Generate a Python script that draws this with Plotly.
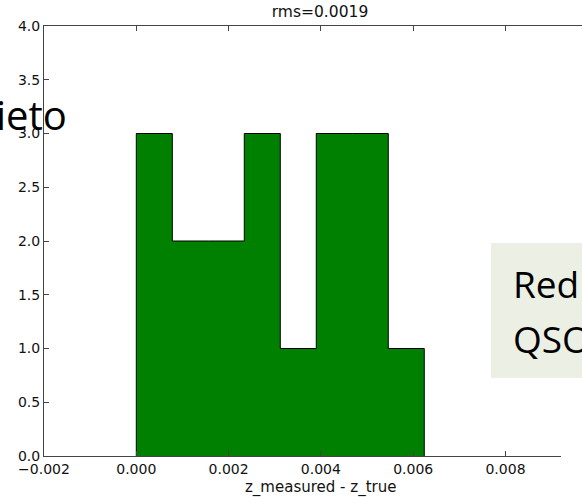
import plotly.graph_objects as go

# ---- data ----
bin_edges = [0.0, 0.00078, 0.00156, 0.00234, 0.00312, 0.0039, 0.00468, 0.00546, 0.00624]
counts = [3, 2, 2, 3, 1, 3, 3, 1]
title_text = "rms=0.0019"
x_label = "z_measured - z_true"
x_ticks = [-0.002, 0.0, 0.002, 0.004, 0.006, 0.008]
y_ticks = [0.0, 0.5, 1.0, 1.5, 2.0, 2.5, 3.0, 3.5, 4.0]
slide_left_text = "ieto"
slide_box_lines = ["Red", "QSO"]

# stepfilled outline built from edges and counts
xs = [bin_edges[0]] + bin_edges[:-1] + [bin_edges[-1], bin_edges[-1]]
ys = [0] + counts + [counts[-1], 0]

W, H = 582, 497
L, R, T, B = 44, 0, 26, 41
pw, ph = W - L - R, H - T - B

def px_x(p):
    return (p - L) / pw

def px_y(p):
    return (H - B - p) / ph

fig = go.Figure()
fig.add_trace(go.Scatter(
    x=xs, y=ys, mode="lines", line=dict(color="#000000", width=1, shape="hv"),
    fill="tozeroy", fillcolor="#008000", hoverinfo="skip", showlegend=False,
))

axis_common = dict(
    showline=True, linecolor="#444444", linewidth=1,
    ticks="inside", ticklen=5, tickcolor="#444444", tickwidth=1,
    showgrid=False, zeroline=False,
    tickfont=dict(family="DejaVu Sans", size=14, color="#111111"),
)

fig.update_layout(
    width=W, height=H,
    margin=dict(l=L, r=R, t=T, b=B),
    paper_bgcolor="white", plot_bgcolor="white",
    font=dict(family="DejaVu Sans", color="#111111"),
    title=dict(text=title_text, x=320 / W, xanchor="center", xref="container",
               y=1 - 12 / H, yanchor="middle", yref="container",
               font=dict(family="DejaVu Sans", size=15.5, color="#111111")),
    xaxis=dict(range=[-0.002, -0.002 + 0.002 * pw / 92.3], tickvals=x_ticks,
               tickformat=".3f", mirror="ticks", **axis_common),
    yaxis=dict(range=[0, 4], tickvals=y_ticks, tickformat=".1f", mirror=False,
               **axis_common),
)

# x axis label centred on the full (cropped) axes
fig.add_annotation(x=0.004, xref="x", y=px_y(487), yref="paper", text=x_label,
                   showarrow=False, xanchor="center", yanchor="middle",
                   font=dict(family="DejaVu Sans", size=15, color="#111111"))

# hide bottom spine beyond x=560 px (as in the reference)
fig.add_shape(type="rect", xref="paper", yref="paper", x0=px_x(561), x1=1.02,
              y0=px_y(459), y1=px_y(453), fillcolor="white", line=dict(width=0),
              layer="above")

# slide overlay elements
fig.add_shape(type="rect", xref="paper", yref="paper", x0=px_x(491), x1=1.02,
              y0=px_y(378), y1=px_y(243), fillcolor="#ECEFE3", line=dict(width=0),
              layer="above")
fig.add_annotation(x=px_x(69), xref="paper", y=px_y(114), yref="paper",
                   text=slide_left_text, showarrow=False, xanchor="right",
                   yanchor="middle",
                   font=dict(family="Open Sans", size=40, color="#000000"))
fig.add_annotation(x=px_x(511), xref="paper", y=px_y(283), yref="paper",
                   text=slide_box_lines[0], showarrow=False, xanchor="left",
                   yanchor="middle",
                   font=dict(family="Open Sans", size=37, color="#000000"))
fig.add_annotation(x=px_x(511), xref="paper", y=px_y(338), yref="paper",
                   text=slide_box_lines[1], showarrow=False, xanchor="left",
                   yanchor="middle",
                   font=dict(family="Open Sans", size=37, color="#000000"))

fig.write_html("out.html", config={"displayModeBar": False},
               post_script="document.body.style.margin='0';")
